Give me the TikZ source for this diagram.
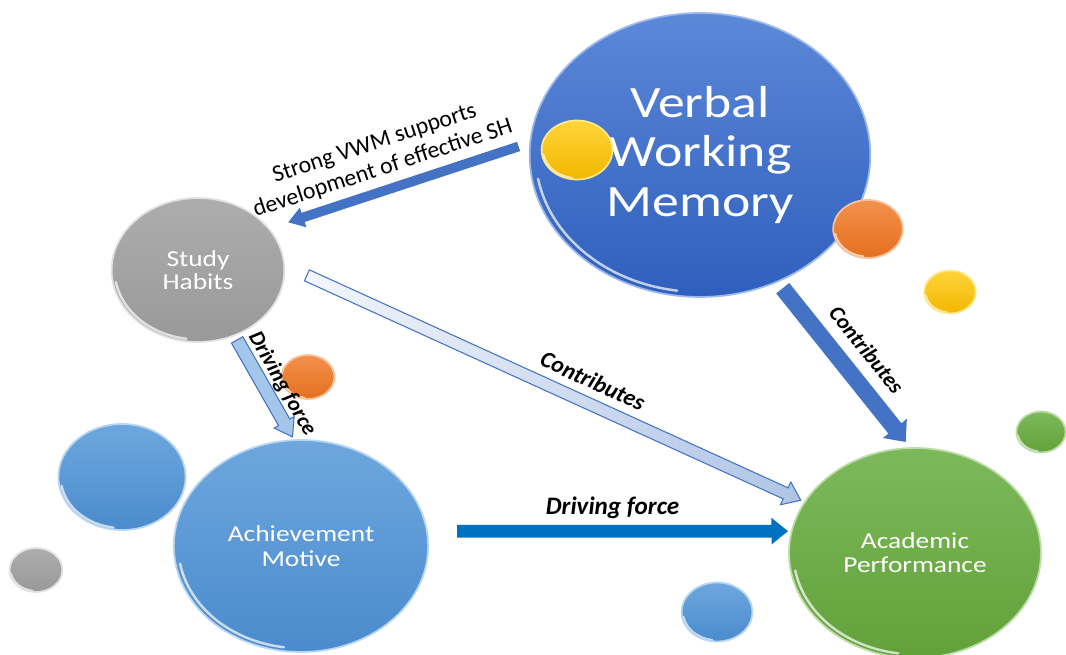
\documentclass[tikz,border=0pt]{standalone}
\usepackage{fontspec}
\setmainfont{Carlito}
\usetikzlibrary{shapes.arrows,calc}

% bubble colours: top, bottom, rim
\definecolor{vwmA}{HTML}{5C88D8}
\definecolor{vwmB}{HTML}{2F5FBD}
\definecolor{vwmR}{HTML}{9DB8EA}
\definecolor{gryA}{HTML}{ADADAD}
\definecolor{gryB}{HTML}{999999}
\definecolor{gryR}{HTML}{E2E2E2}
\definecolor{bluA}{HTML}{6EA7DE}
\definecolor{bluB}{HTML}{4A8BCD}
\definecolor{bluR}{HTML}{B8D5F1}
\definecolor{grnA}{HTML}{7DB95B}
\definecolor{grnB}{HTML}{62A13A}
\definecolor{grnR}{HTML}{BCDDA8}
\definecolor{yelA}{HTML}{FFD43A}
\definecolor{yelB}{HTML}{F2B700}
\definecolor{yelR}{HTML}{FFE88C}
\definecolor{orgA}{HTML}{F2914D}
\definecolor{orgB}{HTML}{E56F1E}
\definecolor{orgR}{HTML}{F8C29B}
% arrow colours
\definecolor{arrblue}{HTML}{4472C4}
\definecolor{arrdark}{HTML}{0070C0}
\definecolor{arrlight}{HTML}{A4C6EA}
\definecolor{arrpale}{HTML}{F3F6FC}
\definecolor{arrpaleB}{HTML}{AFC4E6}

\tikzset{
  bubble/.style={circle, xscale=1.2, inner sep=0pt, outer sep=0pt, line width=1pt, text=white, align=center,
    path picture={\draw[white, line width=1.4pt, opacity=.7, line cap=round]
      let \p1=(path picture bounding box.north east), \p2=(path picture bounding box.center) in
      ($(\p2)+(190:{.965*(\x1-\x2)} and {.965*(\y1-\y2)})$)
      arc[start angle=190, end angle=262, x radius={.965*(\x1-\x2)}, y radius={.965*(\y1-\y2)}];}},
  vwmball/.style={bubble, top color=vwmA, bottom color=vwmB, draw=vwmR},
  gryball/.style={bubble, top color=gryA, bottom color=gryB, draw=gryR},
  bluball/.style={bubble, top color=bluA, bottom color=bluB, draw=bluR},
  grnball/.style={bubble, top color=grnA, bottom color=grnB, draw=grnR},
  yelball/.style={bubble, top color=yelA, bottom color=yelB, draw=yelR},
  orgball/.style={bubble, top color=orgA, bottom color=orgB, draw=orgR},
  blk/.style={single arrow, inner xsep=0pt, minimum width=0pt, outer sep=0pt, anchor=tail},
  lbl/.style={inner sep=0pt, text=black},
  lblbf/.style={lbl, font=\fontsize{#1}{#1}\selectfont\bfseries\itshape},
}

% block arrow from #2 to #3
\newcommand\blockarrow[3]{%
  \path let \p1=($(#3)-(#2)$) in
    node[blk, #1, rotate={atan2(\y1,\x1)}, minimum height={veclen(\x1,\y1)}] at (#2) {};}

\begin{document}
\begin{tikzpicture}[x=0.02cm, y=-0.02cm]
\path[fill=white, use as bounding box] (0,0) rectangle (1066,655);

% main bubbles
\node[vwmball, minimum size=5.68cm, font=\fontsize{25.5}{28.4}\selectfont] (vwm) at (700,155) {Verbal\\Working\\Memory};
\node[gryball, minimum size=2.88cm, font=\fontsize{13}{13.2}\selectfont] (sh) at (198,270) {Study\\Habits};
\node[bluball, minimum size=4.24cm, font=\fontsize{13}{14.2}\selectfont] (am) at (301,546) {Achievement\\Motive};
\node[grnball, minimum size=4.2cm, font=\fontsize{13}{13.7}\selectfont] (ap) at (915,553) {Academic\\Performance};

% small bubbles
\node[yelball, minimum size=1.18cm] (yel1) at (577,150) {};
\node[orgball, minimum size=1.16cm] (org1) at (868,229) {};
\node[yelball, minimum size=0.86cm] (yel2) at (950,292) {};
\node[orgball, minimum size=0.88cm] (org2) at (308,377) {};
\node[bluball, minimum size=2.12cm] (blu1) at (122,477) {};
\node[gryball, minimum size=0.88cm] (gry1) at (36,570) {};
\node[bluball, minimum size=1.18cm] (blu2) at (717,612) {};
\node[grnball, minimum size=0.82cm] (grn1) at (1041,432) {};

% arrow ends
\coordinate (vs0) at ($(vwm.175)!.246cm!(sh.35)$);
\coordinate (vs1) at ($(sh.35)!.41cm!(vwm.175)$);
\coordinate (sa0) at ($(sh.-65)!.108cm!(am.93)$);
\coordinate (sa1) at ($(am.93)!.072cm!(sh.-65)$);
\coordinate (va0) at ($(vwm.-63)!.172cm!(ap.92)$);
\coordinate (va1) at ($(ap.92)!.154cm!(vwm.-63)$);
\coordinate (aa0) at ($(am.8)!.602cm!(ap.168)$);
\coordinate (aa1) at ($(ap.168)!.076cm!(am.8)$);
\coordinate (sp0) at ($(sh.4)!.5cm!(ap.151)$);
\coordinate (sp1) at ($(ap.151)!.088cm!(sh.4)$);

% arrows
\blockarrow{fill=arrblue, inner ysep=.09cm, single arrow head extend=.11cm, single arrow tip angle=67}{vs0}{vs1}
\blockarrow{fill=arrlight, draw=arrblue, line width=.6pt, inner ysep=.12cm, single arrow head extend=.1cm, single arrow tip angle=69}{sa0}{sa1}
\blockarrow{fill=arrblue, inner ysep=.16cm, single arrow head extend=.14cm, single arrow tip angle=83}{va0}{va1}
\blockarrow{fill=arrdark, inner ysep=.12cm, single arrow head extend=.14cm, single arrow tip angle=78}{aa0}{aa1}
\blockarrow{left color=arrpale, right color=arrpaleB, draw=arrblue, line width=.6pt, inner ysep=.11cm, single arrow head extend=.13cm, single arrow tip angle=74}{sp0}{sp1}

% labels
\path (vs1) -- (vs0) node[lbl, pos=.44, sloped, above=.22cm, align=center, font=\fontsize{13.5}{15}\selectfont] {Strong VWM supports\\development of effective SH};
\path (sa0) -- (sa1) node[lblbf=12.4, pos=.54, sloped, above=.146cm] {Driving force};
\path (va0) -- (va1) node[lblbf=12.5, pos=.51, sloped, above=.38cm] {Contributes};
\path (sp0) -- (sp1) node[lblbf=13.3, pos=.56, sloped, above=.28cm] {Contributes};
\path (aa0) -- (aa1) node[lblbf=14.3, pos=.47, above=.24cm] {Driving force};

\end{tikzpicture}
\end{document}
